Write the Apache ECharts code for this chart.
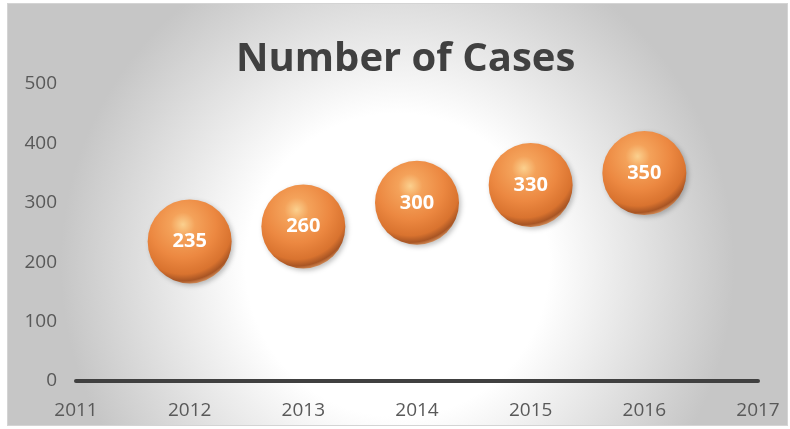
<!DOCTYPE html>
<html>
<head>
<meta charset="utf-8">
<script src="https://cdn.jsdelivr.net/npm/echarts@6/dist/echarts.min.js"></script>
<style>
html,body{margin:0;padding:0;background:#fff;width:790px;height:429px;overflow:hidden;}
#chart{position:absolute;left:7px;top:3px;width:779px;height:421px;border:1px solid #d4d4d4;}
</style>
</head>
<body>
<div id="chart"></div>
<script>
var titleText = "Number of Cases";
var years = [2012, 2013, 2014, 2015, 2016];
var cases = [235, 260, 300, 330, 350];
var yMin = 0, yMax = 500, yStep = 100;
var xMin = 2011, xMax = 2017, xStep = 1;

var chart = echarts.init(document.getElementById('chart'), null, {renderer:'canvas'});
var pts = years.map(function(y,i){return [y, cases[i]];});
var FONT = '"Open Sans", sans-serif';
chart.setOption({
  animation:false,
  backgroundColor:{type:'radial',x:0.5,y:0.62,r:0.8,colorStops:[
    {offset:0,color:'#ffffff'},{offset:0.45,color:'#ffffff'},{offset:1,color:'#c6c6c6'}]},
  title:{text:titleText,left:223,top:31,textStyle:{fontFamily:FONT,fontWeight:'bold',fontSize:40,color:'#404040'}},
  grid:{left:68,right:29,top:80,bottom:44},
  xAxis:{type:'value',min:xMin,max:xMax,interval:xStep,
    axisLine:{show:true,onZero:true,lineStyle:{color:'#404040',width:4}},
    axisTick:{show:false},splitLine:{show:false},
    axisLabel:{color:'#595959',fontFamily:FONT,fontSize:19,margin:20,formatter:function(v){return String(v);}}},
  yAxis:{type:'value',min:yMin,max:yMax,interval:yStep,
    axisLine:{show:false},axisTick:{show:false},splitLine:{show:false},
    axisLabel:{color:'#595959',fontFamily:FONT,fontSize:19,margin:19}},
  series:[{type:'scatter',data:pts,symbolSize:84,
    itemStyle:{opacity:1,color:{type:'radial',x:0.42,y:0.3,r:0.72,colorStops:[
      {offset:0,color:'#fbd08e'},{offset:0.2,color:'#f4a25a'},{offset:0.55,color:'#ec8841'},
      {offset:0.82,color:'#d9732f'},{offset:0.93,color:'#a85524'},{offset:1,color:'#d8925e'}]},
      shadowBlur:5,shadowColor:'rgba(0,0,0,0.25)',shadowOffsetX:2,shadowOffsetY:2},
    label:{show:true,position:'inside',formatter:function(p){return p.value[1];},
      color:'#ffffff',fontFamily:FONT,fontWeight:'bold',fontSize:20}}]
});
</script>
</body>
</html>
